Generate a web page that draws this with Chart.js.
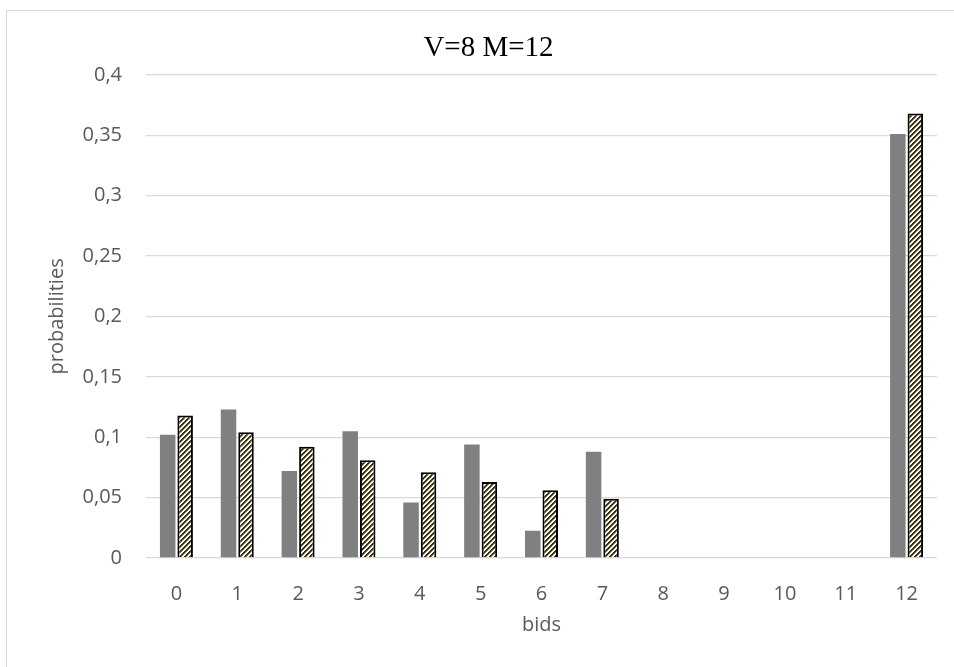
<!DOCTYPE html>
<html>
<head>
<meta charset="utf-8">
<script src="https://cdn.jsdelivr.net/npm/chart.js@4"></script>
<style>
  html, body { margin: 0; padding: 0; background: #fff; overflow: hidden; }
  #frame {
    position: absolute; left: 6px; top: 10px;
    width: 1000px; height: 700px;
    border: 1.5px solid #d9d9d9;
  }
  #wrap { position: absolute; left: 0; top: 0; width: 954px; height: 667px; }
</style>
</head>
<body>
<div id="frame"></div>
<div id="wrap"><canvas id="chart" width="954" height="667"></canvas></div>
<script>
const bids = ['0', '1', '2', '3', '4', '5', '6', '7', '8', '9', '10', '11', '12'];
const seriesGray   = [0.102, 0.123, 0.072, 0.105, 0.046, 0.094, 0.0225, 0.088, 0, 0, 0, 0, 0.351];
const seriesHatch  = [0.118, 0.104, 0.092, 0.081, 0.071, 0.063, 0.056, 0.049, 0, 0, 0, 0, 0.368];
const chartTitle = 'V=8 M=12';

const axisFont = { family: "'Open Sans', sans-serif", size: 20 };
const axisColor = '#595959';

// wide upward diagonal, like the Excel fill
function makeHatch() {
  const c = document.createElement('canvas');
  c.width = 5; c.height = 5;
  const g = c.getContext('2d');
  g.fillStyle = '#ffffff';
  g.fillRect(0, 0, 5, 5);
  for (let x = 0; x < 5; x++) {
    for (let y = 0; y < 5; y++) {
      const k = (x + y) % 5;
      if (k < 2) {
        g.fillStyle = '#3b3113';
        g.fillRect(x, y, 1, 1);
      } else if (k === 2) {
        g.fillStyle = '#8f8664';
        g.fillRect(x, y, 1, 1);
      }
    }
  }
  return document.getElementById('chart').getContext('2d').createPattern(c, 'repeat');
}

const fmt = v => parseFloat(Number(v).toFixed(2)).toString().replace('.', ',');

new Chart(document.getElementById('chart'), {
  type: 'bar',
  data: {
    labels: bids,
    datasets: [
      {
        data: seriesGray,
        backgroundColor: '#808080',
        borderWidth: 0,
        categoryPercentage: 0.575,
        barPercentage: 0.886
      },
      {
        data: seriesHatch,
        backgroundColor: makeHatch(),
        borderColor: '#000000',
        borderWidth: 2,
        categoryPercentage: 0.575,
        barPercentage: 0.886
      }
    ]
  },
  options: {
    responsive: false,
    animation: false,
    layout: { padding: { left: 40, right: 17, top: 0, bottom: 0 } },
    plugins: {
      legend: { display: false },
      tooltip: { enabled: false },
      title: {
        display: true,
        text: chartTitle,
        color: '#000000',
        font: { family: "'Liberation Serif', 'Times New Roman', serif", size: 29, weight: 'normal', lineHeight: 1.2 },
        padding: { top: 30.6, bottom: 9.4 }
      }
    },
    scales: {
      x: {
        grid: { display: false },
        border: { display: false },
        ticks: { color: axisColor, font: axisFont, padding: 16, maxRotation: 0, autoSkip: false },
        title: {
          display: true, text: 'bids', color: axisColor, font: axisFont,
          padding: { top: 0, bottom: 30 }
        },
        afterFit(scale) { scale.height = 109; }
      },
      y: {
        min: 0, max: 0.4,
        grid: { color: '#d9d9d9', lineWidth: 1.3, drawTicks: false },
        border: { display: false },
        ticks: { stepSize: 0.05, color: axisColor, font: axisFont, padding: 24, callback: v => fmt(v) },
        title: {
          display: true, text: 'probabilities', color: axisColor, font: axisFont,
          padding: { top: 5, bottom: 0 }
        },
        afterFit(scale) { scale.width = 106; }
      }
    }
  }
});
</script>
</body>
</html>
